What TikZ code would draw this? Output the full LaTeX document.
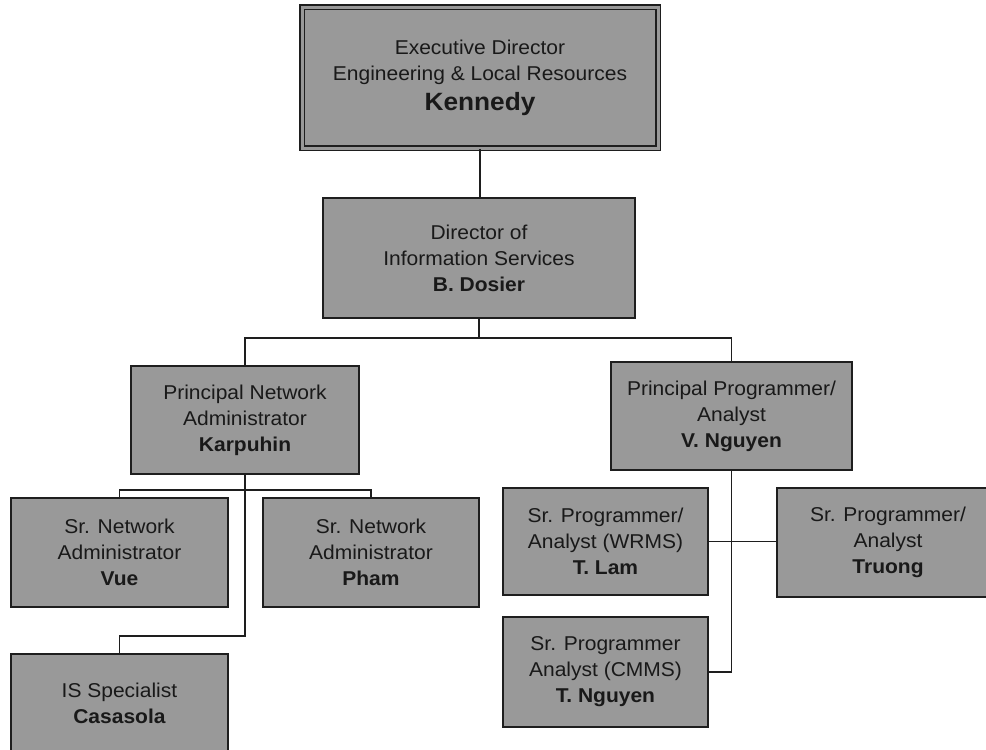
\documentclass[tikz,border=0pt]{standalone}
\usepackage{fontspec}
\setmainfont[FakeStretch=1.05]{Liberation Sans}
\definecolor{boxfill}{RGB}{153,153,153}
\definecolor{linec}{RGB}{30,30,30}
\definecolor{textc}{RGB}{25,25,25}
\begin{document}
\begin{tikzpicture}[x=1pt,y=-1pt,
  box/.style={draw=linec, line width=2pt, fill=boxfill, inner sep=0pt,
    align=center, text=textc, font=\fontsize{20}{26}\selectfont},
  topbox/.style={box, line width=1.5pt, double=boxfill, double distance=3pt},
  link/.style={draw=linec, line width=1.9pt}
]
\useasboundingbox (0,0) rectangle (986,750);
\clip (0,0) rectangle (986,750);

% levels of the horizontal bus lines
\coordinate (bus1) at (0,338);
\coordinate (bus2) at (0,490);
\coordinate (bus3) at (0,636);

% boxes
\node[topbox, minimum width=356pt, minimum height=141pt] (ked) at (480,77.5)
  {Executive Director\\Engineering \& Local Resources\\[4pt]{\fontsize{25}{30}\selectfont\bfseries Kennedy}};
\node[box, minimum width=312pt, minimum height=120pt] (dos) at (479,258)
  {Director of\\Information Services\\\textbf{B. Dosier}};
\node[box, minimum width=228pt, minimum height=108pt] (kar) at (245,420)
  {Principal Network\\Administrator\\\textbf{Karpuhin}};
\node[box, minimum width=241pt, minimum height=108pt] (vng) at (731.5,416)
  {Principal Programmer/\\Analyst\\\textbf{V. Nguyen}};
\node[box, minimum width=217pt, minimum height=109pt] (vue) at (119.5,552.5)
  {Sr. Network\\Administrator\\\textbf{Vue}};
\node[box, minimum width=216pt, minimum height=109pt] (pha) at (371,552.5)
  {Sr. Network\\Administrator\\\textbf{Pham}};
\node[box, minimum width=217pt, minimum height=99pt] (cas) at (119.5,703.5)
  {IS Specialist\\\textbf{Casasola}};
\node[box, minimum width=205pt, minimum height=107pt] (tla) at (605.5,541.5)
  {Sr. Programmer/\\Analyst (WRMS)\\\textbf{T. Lam}};
\node[box, minimum width=222pt, minimum height=109pt] (tru) at (888,542.5)
  {Sr. Programmer/\\Analyst\\\textbf{Truong}};
\node[box, minimum width=205pt, minimum height=110pt] (tng) at (605.5,672)
  {Sr. Programmer\\Analyst (CMMS)\\\textbf{T. Nguyen}};

% reporting lines
\draw[link] (ked.south) -- (ked.south |- dos.north);
\draw[link] (dos.south) -- (dos.south |- bus1) -| (kar.north);
\draw[link] (dos.south |- bus1) -| (vng.north);
\draw[link] (vue.north) -- (vue.north |- bus2) -| (pha.north);
\draw[link] (kar.south) -- (kar.south |- bus3) -| (cas.north);
\draw[link] (vng.south) |- (tng.east);
\draw[link] (tla.east) -- (tla.east -| tru.west);
\end{tikzpicture}
\end{document}
